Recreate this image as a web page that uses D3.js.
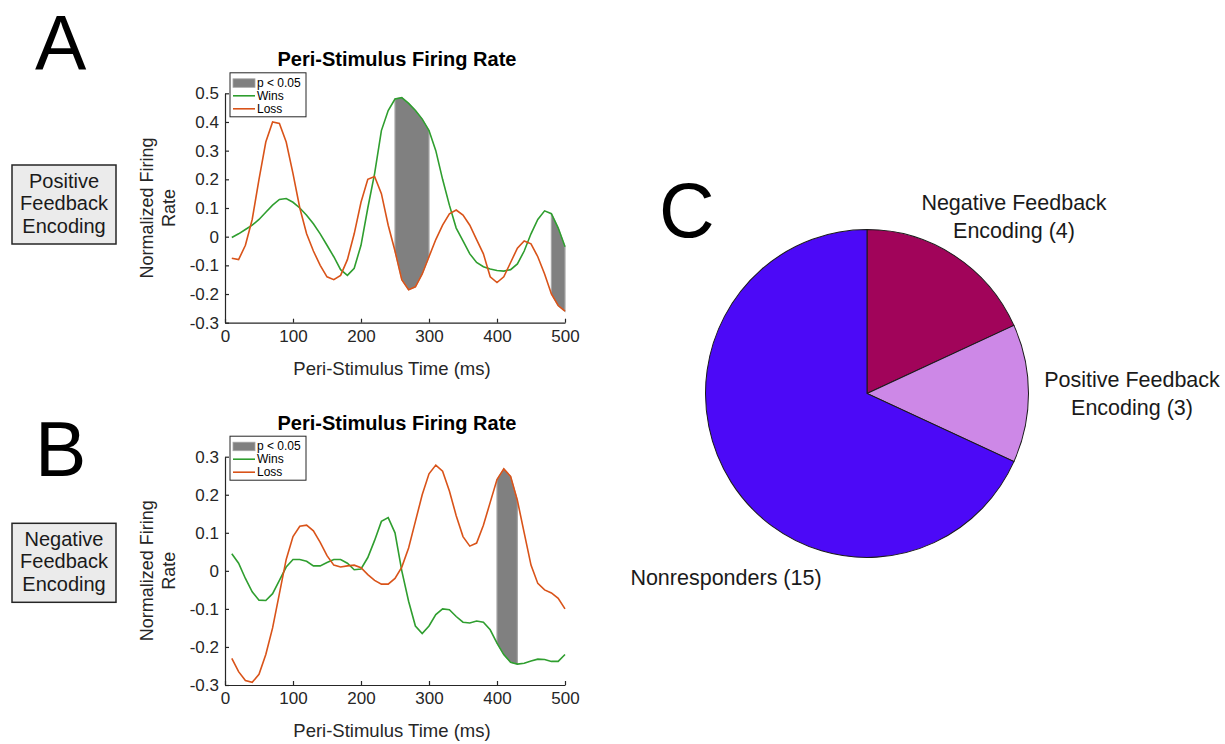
<!DOCTYPE html>
<html>
<head>
<meta charset="utf-8">
<script src="https://cdn.jsdelivr.net/npm/d3@7"></script>
<style>
  body { margin: 0; background: #fff; }
  svg text { font-family: "Liberation Sans", Arial, sans-serif; fill: #000; }
  .axis path, .axis line { stroke: #262626; stroke-width: 1.2; }
  .axis text { font-size: 17px; fill: #262626; }
</style>
</head>
<body>
<svg id="fig" width="1225" height="744"></svg>
<script>
var width = 1225;
var height = 744;

// time bins (ms)
var times = [10, 20, 30, 40, 50, 60, 70, 80, 90, 100,
  110, 120, 130, 140, 150, 160, 170, 180, 190, 200,
  210, 220, 230, 240, 250, 260, 270, 280, 290, 300,
  310, 320, 330, 340, 350, 360, 370, 380, 390, 400,
  410, 420, 430, 440, 450, 460, 470, 480, 490, 500];

// panel A - positive feedback encoding
var winsA = [-0.003, 0.01, 0.025, 0.04, 0.06, 0.085, 0.11, 0.13, 0.133, 0.12,
  0.1, 0.075, 0.045, 0.01, -0.03, -0.07, -0.115, -0.135, -0.11, -0.03,
  0.1, 0.22, 0.37, 0.44, 0.48, 0.485, 0.465, 0.44, 0.41, 0.37,
  0.3, 0.2, 0.11, 0.03, -0.015, -0.06, -0.09, -0.105, -0.113, -0.118,
  -0.12, -0.115, -0.095, -0.05, 0.01, 0.06, 0.09, 0.08, 0.03, -0.035];
var lossA = [-0.075, -0.08, -0.03, 0.06, 0.2, 0.33, 0.4, 0.395, 0.33, 0.22,
  0.1, 0.01, -0.05, -0.1, -0.14, -0.15, -0.135, -0.08, 0.01, 0.12,
  0.2, 0.21, 0.15, 0.04, -0.05, -0.15, -0.185, -0.175, -0.13, -0.07,
  -0.01, 0.04, 0.08, 0.093, 0.075, 0.04, -0.01, -0.06, -0.14, -0.16,
  -0.14, -0.09, -0.04, -0.015, -0.025, -0.07, -0.13, -0.2, -0.24, -0.26];
var sigA = [[250, 300], [480, 500]];

// panel B - negative feedback encoding
var winsB = [0.045, 0.02, -0.02, -0.055, -0.077, -0.078, -0.06, -0.025, 0.01, 0.03,
  0.03, 0.025, 0.013, 0.013, 0.022, 0.03, 0.03, 0.02, 0.003, 0.005,
  0.035, 0.08, 0.13, 0.14, 0.1, 0.0, -0.08, -0.145, -0.165, -0.145,
  -0.115, -0.1, -0.102, -0.12, -0.135, -0.137, -0.132, -0.135, -0.155, -0.19,
  -0.22, -0.24, -0.245, -0.243, -0.237, -0.232, -0.233, -0.238, -0.238, -0.22];
var lossB = [-0.23, -0.265, -0.288, -0.293, -0.272, -0.22, -0.15, -0.06, 0.03, 0.09,
  0.117, 0.12, 0.105, 0.075, 0.04, 0.015, 0.01, 0.013, 0.015, 0.008,
  -0.01, -0.025, -0.035, -0.035, -0.02, 0.01, 0.06, 0.13, 0.2, 0.255,
  0.278, 0.262, 0.21, 0.145, 0.09, 0.065, 0.073, 0.12, 0.18, 0.24,
  0.268, 0.248, 0.185, 0.1, 0.015, -0.033, -0.05, -0.058, -0.072, -0.1];
var sigB = [[400, 430]];

var xTicks = [0, 100, 200, 300, 400, 500];
var yTicksA = [-0.3, -0.2, -0.1, 0, 0.1, 0.2, 0.3, 0.4, 0.5];
var yTicksB = [-0.3, -0.2, -0.1, 0, 0.1, 0.2, 0.3];

// panel C - pie
var pieLabels = ["Negative Feedback Encoding (4)", "Positive Feedback Encoding (3)", "Nonresponders (15)"];
var pieCounts = [4, 3, 15];
var pieColors = ["#a1045a", "#cd88e7", "#4c09f7"];

var winColor = "#2f9e2f";
var lossColor = "#d95319";

var svg = d3.select("#fig");

function fmt(d) {
  return String(Math.round(d * 10) / 10);
}

function drawPanel(opt) {
  var x = d3.scaleLinear().domain([0, 500]).range([225, 565]);
  var y = d3.scaleLinear().domain(opt.yDomain).range([opt.bottom, opt.top]);
  var g = svg.append("g");

  var rows = times.map(function(t, i) {
    return { t: t, w: opt.wins[i], l: opt.loss[i] };
  });

  // significance shading between the curves
  var area = d3.area()
    .x(function(d) { return x(d.t); })
    .y0(function(d) { return y(d.w); })
    .y1(function(d) { return y(d.l); });
  opt.sig.forEach(function(r) {
    var part = rows.filter(function(d) { return d.t >= r[0] && d.t <= r[1]; });
    g.append("path")
      .attr("d", area(part))
      .attr("fill", "#808080")
      .attr("stroke", "#a6a6a6")
      .attr("stroke-width", 1.2);
  });

  var line = d3.line().x(function(d) { return x(d.t); });
  g.append("path")
    .datum(rows)
    .attr("d", line.y(function(d) { return y(d.w); }))
    .attr("fill", "none")
    .attr("stroke", winColor)
    .attr("stroke-width", 1.6);
  g.append("path")
    .datum(rows)
    .attr("d", line.y(function(d) { return y(d.l); }))
    .attr("fill", "none")
    .attr("stroke", lossColor)
    .attr("stroke-width", 1.6);

  g.append("g")
    .attr("class", "axis")
    .attr("transform", "translate(0," + opt.bottom + ")")
    .call(d3.axisBottom(x).tickValues(xTicks).tickSizeInner(-4).tickSizeOuter(0).tickPadding(7).tickFormat(fmt));
  g.append("g")
    .attr("class", "axis")
    .attr("transform", "translate(225,0)")
    .call(d3.axisLeft(y).tickValues(opt.yTicks).tickSizeInner(-4).tickSizeOuter(0).tickPadding(6).tickFormat(fmt));
  g.selectAll(".axis .domain").attr("stroke", "#262626");

  // title and labels
  g.append("text")
    .attr("x", 397).attr("y", opt.top - 27)
    .attr("text-anchor", "middle")
    .style("font-size", "20px").style("font-weight", "bold")
    .text("Peri-Stimulus Firing Rate");
  g.append("text")
    .attr("x", 392).attr("y", opt.bottom + 52)
    .attr("text-anchor", "middle")
    .style("font-size", "18.5px").style("fill", "#262626")
    .text("Peri-Stimulus Time (ms)");
  var midY = (opt.top + opt.bottom) / 2;
  var yl = g.append("text")
    .attr("transform", "translate(153," + midY + ") rotate(-90)")
    .attr("text-anchor", "middle")
    .style("font-size", "18px").style("fill", "#262626");
  yl.append("tspan").attr("x", 0).attr("y", 0).text("Normalized Firing");
  yl.append("tspan").attr("x", 0).attr("y", 21.6).text("Rate");

  // legend
  var lg = g.append("g").attr("transform", "translate(230," + (opt.top - 20.5) + ")");
  lg.append("rect")
    .attr("width", 76).attr("height", 44)
    .attr("fill", "#fff").attr("stroke", "#262626").attr("stroke-width", 1);
  lg.append("rect")
    .attr("x", 3).attr("y", 6).attr("width", 22).attr("height", 8.5)
    .attr("fill", "#808080").attr("stroke", "#a6a6a6").attr("stroke-width", 0.8);
  lg.append("line").attr("x1", 3).attr("x2", 25).attr("y1", 23).attr("y2", 23)
    .attr("stroke", winColor).attr("stroke-width", 1.6);
  lg.append("line").attr("x1", 3).attr("x2", 25).attr("y1", 36).attr("y2", 36)
    .attr("stroke", lossColor).attr("stroke-width", 1.6);
  var legText = ["p < 0.05", "Wins", "Loss"];
  lg.selectAll("text.leg")
    .data(legText)
    .enter()
    .append("text")
    .attr("class", "leg")
    .attr("x", 27)
    .attr("y", function(d, i) { return 10 + i * 13 + 4.3; })
    .style("font-size", "12px")
    .text(function(d) { return d; });

  // row label box
  var bx = g.append("g");
  bx.append("rect")
    .attr("x", 12).attr("y", opt.boxTop).attr("width", 104).attr("height", 79)
    .attr("fill", "#ebebeb").attr("stroke", "#262626").attr("stroke-width", 1.5);
  bx.selectAll("text")
    .data(opt.boxText)
    .enter()
    .append("text")
    .attr("x", 64)
    .attr("y", function(d, i) { return opt.boxTop + 22.5 + i * 22.6; })
    .attr("text-anchor", "middle")
    .style("font-size", "20px")
    .style("fill", "#1a1a1a")
    .text(function(d) { return d; });

  svg.append("text")
    .attr("x", opt.letterX).attr("y", opt.letterY)
    .style("font-size", "77px")
    .text(opt.letter);
}

drawPanel({
  wins: winsA, loss: lossA, sig: sigA,
  yDomain: [-0.3, 0.5], yTicks: yTicksA,
  top: 93.3, bottom: 322.7,
  boxTop: 165, boxText: ["Positive", "Feedback", "Encoding"],
  letter: "A", letterX: 35, letterY: 70
});

drawPanel({
  wins: winsB, loss: lossB, sig: sigB,
  yDomain: [-0.3, 0.3], yTicks: yTicksB,
  top: 456.7, bottom: 685,
  boxTop: 523.3, boxText: ["Negative", "Feedback", "Encoding"],
  letter: "B", letterX: 35, letterY: 476
});

// pie chart
var pieG = svg.append("g").attr("transform", "translate(867,393.5) scale(1,1.015)");
var pie = d3.pie().sort(null).value(function(d) { return d; });
var arc = d3.arc().innerRadius(0).outerRadius(161.5);
pieG.selectAll("path")
  .data(pie(pieCounts))
  .enter()
  .append("path")
  .attr("d", arc)
  .attr("fill", function(d, i) { return pieColors[i]; })
  .attr("stroke", "#1a1a1a")
  .attr("stroke-width", 1);

var pieText = [
  { lines: ["Negative Feedback", "Encoding (4)"], x: 1014, y: 210 },
  { lines: ["Positive Feedback", "Encoding (3)"], x: 1132, y: 387 },
  { lines: [pieLabels[2]], x: 726, y: 585 }
];
pieText.forEach(function(p, k) {
  var t = svg.append("text")
    .attr("text-anchor", "middle")
    .style("font-size", "21.5px")
    .style("fill", "#1a1a1a");
  p.lines.forEach(function(s, i) {
    t.append("tspan").attr("x", p.x).attr("y", p.y + i * 27.5).text(s);
  });
});

svg.append("text")
  .attr("x", 659).attr("y", 237)
  .style("font-size", "77px")
  .text("C");
</script>
</body>
</html>
